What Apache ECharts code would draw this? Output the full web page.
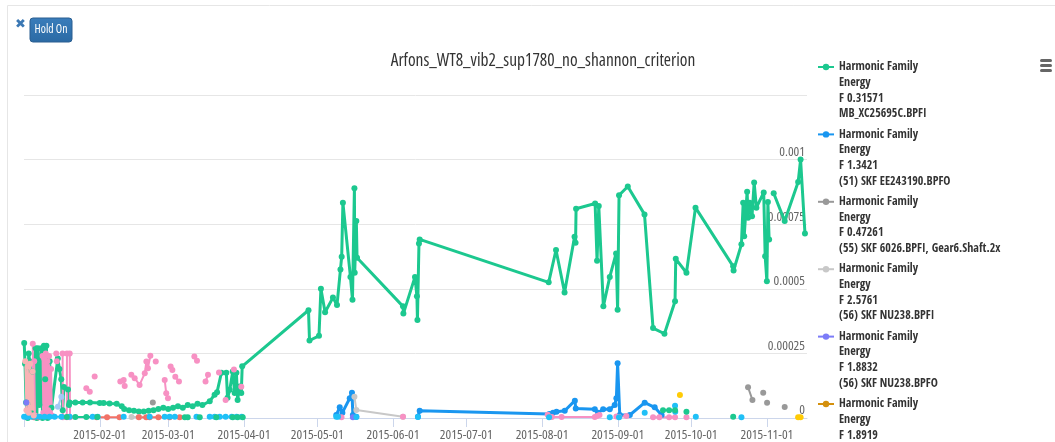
<!DOCTYPE html>
<html>
<head>
<meta charset="utf-8">
<script src="https://cdn.jsdelivr.net/npm/echarts@6/dist/echarts.min.js"></script>
<style>
  html, body { margin: 0; padding: 0; background: #fff; }
  #chart { width: 1055px; height: 442px; }
</style>
</head>
<body>
<div id="chart"></div>
<script>
// ---------- DATA ----------
const TITLE = 'Arfons_WT8_vib2_sup1780_no_shannon_criterion';
const X_MIN = '2015-01-01 00';
const X_MAX = '2015-11-17 10';
const Y_TICK_LABELS = ['0', '0.00025', '0.0005', '0.00075', '0.001', ''];
const Y_MAX = 0.00125;
const Y_STEP = 0.00025;

const SERIES_NAMES = [
  'Harmonic Family\nEnergy\nF 0.31571\nMB_XC25695C.BPFI',
  'Harmonic Family\nEnergy\nF 1.3421\n(51) SKF EE243190.BPFO',
  'Harmonic Family\nEnergy\nF 0.47261\n(55) SKF 6026.BPFI, Gear6.Shaft.2x',
  'Harmonic Family\nEnergy\nF 2.5761\n(56) SKF NU238.BPFI',
  'Harmonic Family\nEnergy\nF 1.8832\n(56) SKF NU238.BPFO',
  'Harmonic Family\nEnergy\nF 1.8919\n(57) SKF 23234.BPFO',
  'Harmonic Family\nEnergy\nF 0.92512\n(58) SKF 6330.BPFI',
  'Harmonic Family\nEnergy\nF 2.1047\n(58) SKF 6330.BPFO',
  'Harmonic Family\nEnergy\nF 1.2213\n(59) SKF NU2236.BPFI',
  'Harmonic Family\nEnergy\nF 3.0112\n(59) SKF NU2236.BPFO',
  'Harmonic Family\nEnergy\nF 0.71804\n(60) SKF 6036.BPFI',
  'Harmonic Family\nEnergy\nF 1.5530\n(60) SKF 6036.BPFO',
  'Harmonic Family\nEnergy\nF 0.40215\n(61) SKF 22330.BPFI'
];

const GREEN = [
  ['2015-01-01 02', 0.00029], ['2015-01-01 10', 0.00021], ['2015-01-01 20', 0.00006],
  ['2015-01-02 12', 0.0], ['2015-01-02 22', 0.00025], ['2015-01-03 08', 0.00022],
  ['2015-01-03 20', 0.00002], ['2015-01-04 12', 0.00018], ['2015-01-05 18', 0.00027],
  ['2015-01-06 06', 0.0], ['2015-01-06 16', 0.00027], ['2015-01-07 06', 0.00005],
  ['2015-01-08 02', 0.00027], ['2015-01-08 14', 0.0], ['2015-01-09 04', 0.00028],
  ['2015-01-09 16', 0.00015], ['2015-01-10 04', 0.00028], ['2015-01-10 16', 0.0],
  ['2015-01-11 12', 0.00022], ['2015-01-12 06', 0.00004], ['2015-01-14 20', 0.00023],
  ['2015-01-15 12', 0.00019], ['2015-01-16 06', 0.00015], ['2015-01-16 20', 0.00003],
  ['2015-01-17 08', 0.00012], ['2015-01-19 00', 0.00011], ['2015-01-19 10', 0.00005],
  ['2015-01-19 16', 0.00006], ['2015-01-22 00', 0.00006], ['2015-01-25 00', 0.00006],
  ['2015-01-28 00', 0.00006], ['2015-02-01 00', 0.000058], ['2015-02-02 14', 0.000058],
  ['2015-02-05 00', 0.000056], ['2015-02-07 22', 0.000055], ['2015-02-10 00', 0.000045],
  ['2015-02-11 00', 0.000035], ['2015-02-13 00', 0.00003], ['2015-02-15 00', 0.000028],
  ['2015-02-17 00', 0.000025], ['2015-02-19 00', 0.000025], ['2015-02-21 00', 0.000028],
  ['2015-02-23 00', 0.00003], ['2015-02-25 00', 0.000035], ['2015-02-27 00', 0.00004],
  ['2015-03-01 00', 0.000035], ['2015-03-03 00', 0.00004], ['2015-03-05 00', 0.000045],
  ['2015-03-07 00', 0.00004], ['2015-03-09 00', 0.00005], ['2015-03-11 00', 0.000045],
  ['2015-03-13 00', 0.000055], ['2015-03-15 00', 0.00005], ['2015-03-18 00', 0.000065],
  ['2015-03-20 00', 0.00009], ['2015-03-21 00', 0.0001], ['2015-03-22 19', 0.000175],
  ['2015-03-24 19', 0.000175], ['2015-03-25 07', 0.000078], ['2015-03-26 05', 0.000109],
  ['2015-03-27 10', 0.00018], ['2015-03-28 05', 0.000097], ['2015-03-28 22', 0.000175],
  ['2015-03-29 10', 0.00007], ['2015-03-30 05', 0.000122], ['2015-03-30 22', 0.000097],
  ['2015-03-31 07', 0.0002], ['2015-04-27 10', 0.000417], ['2015-04-27 20', 0.0003],
  ['2015-05-01 17', 0.000318], ['2015-05-02 12', 0.0005], ['2015-05-04 05', 0.000409],
  ['2015-05-07 10', 0.000466], ['2015-05-09 02', 0.000437], ['2015-05-10 12', 0.000575],
  ['2015-05-11 00', 0.000624], ['2015-05-11 12', 0.000833], ['2015-05-14 14', 0.000546],
  ['2015-05-15 10', 0.000458], ['2015-05-16 05', 0.000889], ['2015-05-16 08', 0.000562],
  ['2015-05-17 00', 0.000762], ['2015-05-17 07', 0.00062], ['2015-06-05 02', 0.000432],
  ['2015-06-05 06', 0.000404], ['2015-06-10 00', 0.000546], ['2015-06-10 19', 0.000471],
  ['2015-06-11 00', 0.000379], ['2015-06-11 15', 0.000675], ['2015-06-11 22', 0.000691],
  ['2015-08-03 17', 0.000525], ['2015-08-06 17', 0.00065], ['2015-08-10 05', 0.000486],
  ['2015-08-14 07', 0.000701], ['2015-08-14 17', 0.000678], ['2015-08-14 22', 0.00081],
  ['2015-08-22 17', 0.00083], ['2015-08-23 12', 0.000609], ['2015-08-24 05', 0.00082],
  ['2015-08-26 02', 0.000432], ['2015-08-28 17', 0.000546], ['2015-08-31 07', 0.000637],
  ['2015-08-31 22', 0.000419], ['2015-09-01 12', 0.000862], ['2015-09-05 02', 0.000896],
  ['2015-09-11 22', 0.000788], ['2015-09-15 10', 0.000348], ['2015-09-20 02', 0.000326],
  ['2015-09-24 10', 0.000452], ['2015-09-24 17', 0.000616], ['2015-09-29 02', 0.000562],
  ['2015-10-02 19', 0.000814], ['2015-10-18 05', 0.000587], ['2015-10-18 09', 0.000571],
  ['2015-10-21 14', 0.000672], ['2015-10-22 07', 0.000833], ['2015-10-22 17', 0.000703],
  ['2015-10-23 22', 0.000876], ['2015-10-24 07', 0.000775], ['2015-10-25 00', 0.000833],
  ['2015-10-25 22', 0.000781], ['2015-10-26 19', 0.000911], ['2015-10-27 17', 0.000814],
  ['2015-10-30 17', 0.000873], ['2015-10-31 07', 0.000626], ['2015-11-01 00', 0.000529],
  ['2015-11-01 10', 0.000836], ['2015-11-01 22', 0.000691], ['2015-11-02 20', null],
  ['2015-11-03 19', 0.00087], ['2015-11-08 07', 0.000762], ['2015-11-13 19', 0.000913],
  ['2015-11-14 19', 0.001], ['2015-11-16 14', 0.000714]
];

const BLUE = [
  ['2015-05-08 19', 0.0000117], ['2015-05-10 05', 0.0000415], ['2015-05-11 07', 0.0000206],
  ['2015-05-14 07', 0.0000765], ['2015-05-15 05', 0.0000982], ['2015-05-15 14', 0.0000117],
  ['2015-05-17 00', 0.000005], ['2015-05-30 00', null],
  ['2015-06-11 05', 0.000005], ['2015-06-11 22', 0.0000283], ['2015-08-04 00', 0.0000155],
  ['2015-08-05 12', 0.0000206], ['2015-08-06 22', 0.0000245], ['2015-08-10 07', 0.0000283],
  ['2015-08-14 10', 0.0000672], ['2015-08-14 19', 0.0000372], ['2015-08-22 14', 0.0000338],
  ['2015-08-23 22', 0.0000206], ['2015-08-26 00', 0.0000338], ['2015-08-28 17', 0.0000338],
  ['2015-08-30 17', 0.00005], ['2015-08-31 10', 0.0000765], ['2015-08-31 22', 0.000212],
  ['2015-09-01 19', 0.0000117], ['2015-09-05 22', 0.0000117], ['2015-09-12 00', 0.0000594],
  ['2015-09-16 02', 0.0000415], ['2015-09-18 22', 0.0000117]
];

const DARK_GREY = [
  ['2015-02-22 17', 0.00006], ['2015-03-01 00', null],
  ['2015-10-24 07', 0.000119], ['2015-10-26 02', 0.00007], ['2015-10-28 00', null],
  ['2015-10-30 12', 0.000098], ['2015-10-31 06', null],
  ['2015-11-01 02', 0.000059], ['2015-11-05 00', null],
  ['2015-11-08 07', 0.000043]
];

const LIGHT_GREY = [
  ['2015-02-14 00', 0.000004], ['2015-02-17 00', 0.000004], ['2015-03-01 00', null],
  ['2015-05-16 05', 0.0000827], ['2015-05-17 00', 0.000031], ['2015-06-05 02', 0.000005]
];

const PURPLE = [
  ['2015-01-01 23', 0.00006], ['2015-01-02 06', 0.000005], ['2015-02-01 00', null],
  ['2015-05-15 14', 0.000003]
];

const ORANGE = [];

const PINK = [
  ['2015-01-04 14', 0.000287], ['2015-01-04 20', 0.00001], ['2015-01-05 04', 0.00022],
  ['2015-01-05 12', 0.00001], ['2015-01-06 00', null],
  ['2015-01-08 14', 0.00024], ['2015-01-08 22', 0.00002], ['2015-01-09 06', 0.00023],
  ['2015-01-09 14', 0.00004], ['2015-01-09 22', 0.00025], ['2015-01-10 06', 0.00001],
  ['2015-01-10 14', 0.00022], ['2015-01-10 22', 0.00003], ['2015-01-11 06', 0.00024],
  ['2015-01-11 14', 0.00002], ['2015-01-12 02', 0.00019], ['2015-01-12 10', 0.00001],
  ['2015-01-13 00', null],
  ['2015-01-14 05', 0.00025], ['2015-01-14 10', 0.00022], ['2015-01-15 00', null],
  ['2015-01-16 19', 0.00025], ['2015-01-16 22', 0.000003], ['2015-01-18 12', 0.000003],
  ['2015-01-18 14', 0.00025], ['2015-01-19 17', 0.00025], ['2015-01-19 20', 0.000003],
  ['2015-01-22 00', null],
  ['2015-01-26 12', 0.000115], ['2015-01-27 22', 0.000102], ['2015-01-29 00', null],
  ['2015-01-29 22', 0.000161], ['2015-02-05 00', null],
  ['2015-02-09 10', 0.000141], ['2015-02-10 19', 0.000147], ['2015-02-11 05', 0.000124],
  ['2015-02-12 00', null],
  ['2015-02-13 22', 0.000167], ['2015-02-15 07', 0.000154], ['2015-02-17 07', 0.000128],
  ['2015-02-19 10', 0.000173], ['2015-02-20 02', 0.000219], ['2015-02-20 17', 0.000193],
  ['2015-02-21 17', 0.000241], ['2015-02-22 12', null],
  ['2015-02-23 22', 0.000219], ['2015-02-25 00', null],
  ['2015-02-27 14', 0.000147], ['2015-02-28 05', 0.0000955], ['2015-02-28 22', 0.0000765],
  ['2015-03-01 12', null],
  ['2015-03-02 00', 0.000199], ['2015-03-02 17', 0.000186], ['2015-03-03 06', null],
  ['2015-03-03 22', 0.00016], ['2015-03-05 10', 0.000141], ['2015-03-08 00', null],
  ['2015-03-11 17', 0.000238], ['2015-03-12 19', 0.000222], ['2015-03-14 00', null],
  ['2015-03-16 07', 0.000141], ['2015-03-17 07', 0.000167], ['2015-03-19 00', null],
  ['2015-03-21 19', 0.000176], ['2015-03-23 00', null],
  ['2015-03-24 12', 0.00007], ['2015-03-26 00', null],
  ['2015-03-27 22', 0.000188], ['2015-03-29 00', null],
  ['2015-03-30 22', 0.000121], ['2015-04-10 00', null],
  ['2015-05-10 22', 0.000003], ['2015-05-20 00', null],
  ['2015-06-05 02', 0.000005], ['2015-06-20 00', null],
  ['2015-08-03 07', 0.000013], ['2015-08-05 00', 0.000004], ['2015-08-09 00', 0.000004],
  ['2015-08-22 14', 0.000004], ['2015-08-23 12', 0.000008], ['2015-08-24 12', 0.000012],
  ['2015-08-27 00', null],
  ['2015-08-31 10', 0.000006], ['2015-09-01 12', 0.000004], ['2015-09-04 12', 0.000008],
  ['2015-09-08 00', null],
  ['2015-09-15 10', 0.000003], ['2015-09-18 00', 0.000003], ['2015-09-22 00', 0.000003],
  ['2015-09-24 10', 0.000003], ['2015-09-26 00', null],
  ['2015-09-29 02', 0.000003]
];

const SALMON = [
  ['2015-01-05 00', 0.000003], ['2015-01-07 00', 0.000003], ['2015-01-10 00', null],
  ['2015-01-30 17', 0.000003], ['2015-02-04 00', 0.000003], ['2015-02-09 02', 0.000003],
  ['2015-02-12 00', null],
  ['2015-02-17 00', 0.000003], ['2015-02-20 00', 0.000003], ['2015-02-21 00', null],
  ['2015-02-21 10', 0.000003], ['2015-02-25 00', 0.000003], ['2015-03-01 14', 0.000003],
  ['2015-03-05 17', 0.000003]
];

const CYAN = [
  ['2015-01-01 01', 0.000005], ['2015-01-02 11', 0.000005], ['2015-01-04 03', 0.000005],
  ['2015-01-05 18', 0.000005], ['2015-01-07 09', 0.000005], ['2015-01-09 10', 0.000005],
  ['2015-01-11 11', 0.000005], ['2015-01-12 12', null],
  ['2015-01-13 12', 0.000005], ['2015-01-16 09', 0.000005], ['2015-01-18 00', null],
  ['2015-01-19 16', 0.000005], ['2015-01-25 00', null],
  ['2015-01-29 02', 0.000005], ['2015-01-31 03', 0.000005], ['2015-02-05 00', null],
  ['2015-02-10 19', 0.000005], ['2015-02-15 00', null],
  ['2015-02-21 10', 0.000005], ['2015-02-25 00', null],
  ['2015-02-27 14', 0.000005], ['2015-03-01 14', 0.000005], ['2015-03-03 17', 0.000005],
  ['2015-03-08 00', null],
  ['2015-03-12 14', 0.000005], ['2015-03-15 00', null],
  ['2015-03-18 00', 0.000005], ['2015-03-20 00', 0.000005], ['2015-03-22 02', 0.000005],
  ['2015-03-24 12', 0.000005], ['2015-03-27 00', 0.000005], ['2015-03-29 00', 0.000005],
  ['2015-03-31 02', 0.000005], ['2015-04-15 00', null],
  ['2015-05-08 19', 0.000005], ['2015-05-09 12', 0.000005], ['2015-05-12 00', null],
  ['2015-05-17 00', 0.000004], ['2015-05-30 00', null],
  ['2015-06-11 05', 0.000004], ['2015-07-01 00', null],
  ['2015-08-03 21', 0.000003], ['2015-08-15 00', null],
  ['2015-08-28 17', 0.000003], ['2015-08-30 00', null],
  ['2015-09-01 12', 0.000003], ['2015-09-05 00', null],
  ['2015-09-12 00', 0.00002], ['2015-09-18 00', null],
  ['2015-09-24 10', 0.000047], ['2015-09-24 12', 0.000024], ['2015-09-28 00', null],
  ['2015-10-02 22', 0.000005], ['2015-10-10 00', null],
  ['2015-10-21 14', 0.000003]
];

const YELLOW = [
  ['2015-09-26 10', 0.000089], ['2015-10-10 00', null],
  ['2015-11-13 19', 0.000003], ['2015-11-14 19', 0.000003]
];

const LIGHT_PINK = [
  ['2015-01-01 12', 0.00022], ['2015-01-02 00', 0.00003], ['2015-01-02 12', 0.0002],
  ['2015-01-03 00', 0.00002], ['2015-01-03 12', 0.00021], ['2015-01-04 00', 0.00004],
  ['2015-01-04 12', 0.00018], ['2015-01-05 00', 0.00001]
];

const LIGHT_BLUE = [
  ['2015-01-14 21', 0.0000439], ['2015-01-16 07', 0.0000827]
];

const GREEN_LOW = [
  ['2015-01-18 12', 0.000004], ['2015-01-22 00', 0.000004], ['2015-01-26 12', 0.000004],
  ['2015-01-31 00', 0.000004], ['2015-02-10 00', null],
  ['2015-03-07 19', 0.000003], ['2015-03-09 00', 0.000003], ['2015-03-11 00', null],
  ['2015-03-13 22', 0.000003], ['2015-03-16 00', null],
  ['2015-03-20 17', 0.000003], ['2015-03-23 00', null],
  ['2015-03-27 10', 0.000003], ['2015-03-29 10', 0.000003], ['2015-03-30 12', null],
  ['2015-03-31 12', 0.000003], ['2015-04-10 00', null],
  ['2015-09-19 12', 0.00003], ['2015-09-22 00', 0.00003], ['2015-09-24 10', 0.00003],
  ['2015-09-27 00', null],
  ['2015-09-29 02', 0.000024], ['2015-10-05 00', null],
  ['2015-10-18 05', 0.000005]
];

// ---------- FONT CHOICE (narrow sans, sized to match the reference text widths) ----------
const FONT_CANDIDATES = [
  { stretch: 'normal', fam: '"Liberation Sans Narrow"' },
  { stretch: 'condensed', fam: '"Noto Sans"' },
  { stretch: 'semi-condensed', fam: '"Noto Sans"' },
  { stretch: 'normal', fam: '"Noto Sans Condensed"' },
  { stretch: 'condensed', fam: '"Open Sans"' },
  { stretch: 'normal', fam: '"Open Sans Condensed"' },
  { stretch: 'condensed', fam: 'Roboto' },
  { stretch: 'normal', fam: '"Roboto Condensed"' },
  { stretch: 'normal', fam: '"DejaVu Sans Condensed"' },
  { stretch: 'normal', fam: '"Liberation Sans"' }
];
const measureCtx = document.createElement('canvas').getContext('2d');
function textWidth(font, text) { measureCtx.font = font; return measureCtx.measureText(text).width; }
// pick the installed face whose size, when fitted to the reference width, is nearest the nominal size
function chooseFont(weight, probe, target, nominal) {
  const mono = textWidth(weight + ' ' + nominal + 'px monospace', probe);
  let best = null;
  for (const c of FONT_CANDIDATES) {
    const f = (w) => c.stretch + ' ' + w + ' ' + nominal + 'px ' + c.fam + ', monospace';
    const a = textWidth(f(weight), probe);
    if (Math.abs(a - mono) < 0.01) continue;
    if (c.stretch !== 'normal') {
      const plain = textWidth(weight + ' ' + nominal + 'px ' + c.fam + ', monospace', probe);
      if (Math.abs(plain - a) < 0.01) continue;
    }
    if (weight === 'normal') {
      const boldW = textWidth(f('bold'), 'Harmonic Family');
      const normW = textWidth(f('normal'), 'Harmonic Family');
      if (Math.abs(boldW - normW) / normW < 0.03) continue; // no real regular face
    }
    const size = nominal * target / a;
    if (!best || Math.abs(size - nominal) < Math.abs(best.size - nominal)) {
      best = { stretch: c.stretch, fam: c.fam + ', sans-serif', size: Math.round(size * 10) / 10 };
    }
  }
  return best || { stretch: 'normal', fam: 'sans-serif', size: nominal };
}
const LEGEND_FONT = chooseFont('bold', 'Harmonic Family', 79, 12);
const TITLE_FONT = chooseFont('normal', TITLE, 304, 16);
const AXIS_FONT = chooseFont('normal', '2015-02-01', 53, 12);
const BUTTON_FONT = chooseFont('normal', 'Hold On', 33, 12);

// ---------- STYLE ----------
const COLORS = ['#1cc88f', '#1996f0', '#999999', '#c8c8c8', '#7c7cf8', '#d4900d',
  '#f791c3', '#f27267', '#1fc0f7', '#ffcb05', '#f9b3b5', '#a4c8f5', '#1cc88f'];
const DATASETS = [GREEN, BLUE, DARK_GREY, LIGHT_GREY, PURPLE, ORANGE,
  PINK, SALMON, CYAN, YELLOW, LIGHT_PINK, LIGHT_BLUE, GREEN_LOW];
const WIDTHS = [3, 3, 2, 2, 2, 2, 2, 2, 2, 2, 2, 2, 2];

function pad(n) { return String(n).padStart(2, '0'); }

const series = DATASETS.map((data, i) => ({
  name: SERIES_NAMES[i],
  type: 'line',
  data: data,
  color: COLORS[i],
  symbol: 'circle',
  symbolSize: 6,
  showSymbol: true,
  connectNulls: false,
  lineStyle: { width: WIDTHS[i], color: COLORS[i] },
  itemStyle: { color: COLORS[i] },
  emphasis: { disabled: true },
  animation: false
}));

const chart = echarts.init(document.getElementById('chart'), null, { renderer: 'canvas' });
chart.setOption({
  animation: false,
  backgroundColor: '#ffffff',
  title: {
    text: TITLE,
    left: 538,
    top: 60 - TITLE_FONT.size * 0.7,
    textAlign: 'center',
    textStyle: { fontFamily: TITLE_FONT.fam, fontStyle: TITLE_FONT.stretch, fontSize: TITLE_FONT.size,
      fontWeight: 'normal', color: '#333333' }
  },
  legend: {
    orient: 'vertical',
    left: 817,
    top: 67 - 3.5 * 15.7,
    height: 3000,
    padding: 0,
    itemGap: 67.4 - 7 * 15.7,
    itemWidth: 16,
    itemHeight: 8,
    selectedMode: false,
    formatter: function (name) { return '\n\n\n' + name; },
    textStyle: {
      fontFamily: LEGEND_FONT.fam, fontStyle: LEGEND_FONT.stretch, fontSize: LEGEND_FONT.size,
      fontWeight: 'bold', color: '#333333', lineHeight: 15.7
    }
  },
  grid: { left: 24, right: 248, top: 95, bottom: 24, containLabel: false },
  xAxis: {
    type: 'time',
    min: X_MIN,
    max: X_MAX,
    minInterval: 28 * 24 * 3600 * 1000,
    maxInterval: 31 * 24 * 3600 * 1000,
    axisLine: { lineStyle: { color: '#ccd6eb', width: 1 } },
    axisTick: { show: true, length: 9, lineStyle: { color: '#ccd6eb' } },
    splitLine: { show: false },
    axisLabel: {
      fontFamily: AXIS_FONT.fam, fontStyle: AXIS_FONT.stretch, fontSize: AXIS_FONT.size,
      color: '#666666', margin: 11, hideOverlap: false,
      formatter: function (v) {
        const d = new Date(v);
        if (d.getMonth() === 0 && d.getDate() === 1) return '';
        return d.getFullYear() + '-' + pad(d.getMonth() + 1) + '-' + pad(d.getDate());
      }
    }
  },
  yAxis: {
    type: 'value',
    position: 'right',
    min: 0,
    max: Y_MAX,
    interval: Y_STEP,
    axisLine: { show: false },
    axisTick: { show: false },
    splitLine: { lineStyle: { color: '#e6e6e6', width: 1 } },
    axisLabel: {
      inside: true, margin: 2, fontFamily: AXIS_FONT.fam, fontStyle: AXIS_FONT.stretch,
      fontSize: AXIS_FONT.size, color: '#666666',
      verticalAlign: 'bottom', padding: [0, 0, 1, 0],
      formatter: function (v) { return Y_TICK_LABELS[Math.round(v / Y_STEP)]; }
    }
  },
  graphic: [
    { type: 'rect', silent: true, shape: { x: 7.5, y: 5.5, width: 1100, height: 500 },
      style: { fill: 'none', stroke: '#e6e6e6', lineWidth: 1 } },
    { type: 'text', silent: true, x: 20.5, y: 25,
      style: { text: '\u2716', fill: '#3b78b4', font: 'bold 13px "DejaVu Sans", sans-serif',
        align: 'center', verticalAlign: 'middle' } },
    { type: 'rect', silent: true, shape: { x: 30, y: 18, width: 42, height: 24, r: 3 },
      style: {
        fill: new echarts.graphic.LinearGradient(0, 0, 0, 1, [
          { offset: 0, color: '#3a7dbb' }, { offset: 1, color: '#2b6aa4' }
        ]),
        stroke: '#2a5f91', lineWidth: 1
      } },
    { type: 'text', silent: true, x: 51, y: 30,
      style: { text: 'Hold On', fill: '#ffffff',
        font: BUTTON_FONT.stretch + ' normal ' + BUTTON_FONT.size + 'px ' + BUTTON_FONT.fam,
        align: 'center', verticalAlign: 'middle' } },
    { type: 'rect', silent: true, shape: { x: 1040, y: 59, width: 12, height: 3, r: 1.5 }, style: { fill: '#666666' } },
    { type: 'rect', silent: true, shape: { x: 1040, y: 64, width: 12, height: 3, r: 1.5 }, style: { fill: '#666666' } },
    { type: 'rect', silent: true, shape: { x: 1040, y: 69, width: 12, height: 3, r: 1.5 }, style: { fill: '#666666' } }
  ],
  series: series
});
</script>
</body>
</html>
